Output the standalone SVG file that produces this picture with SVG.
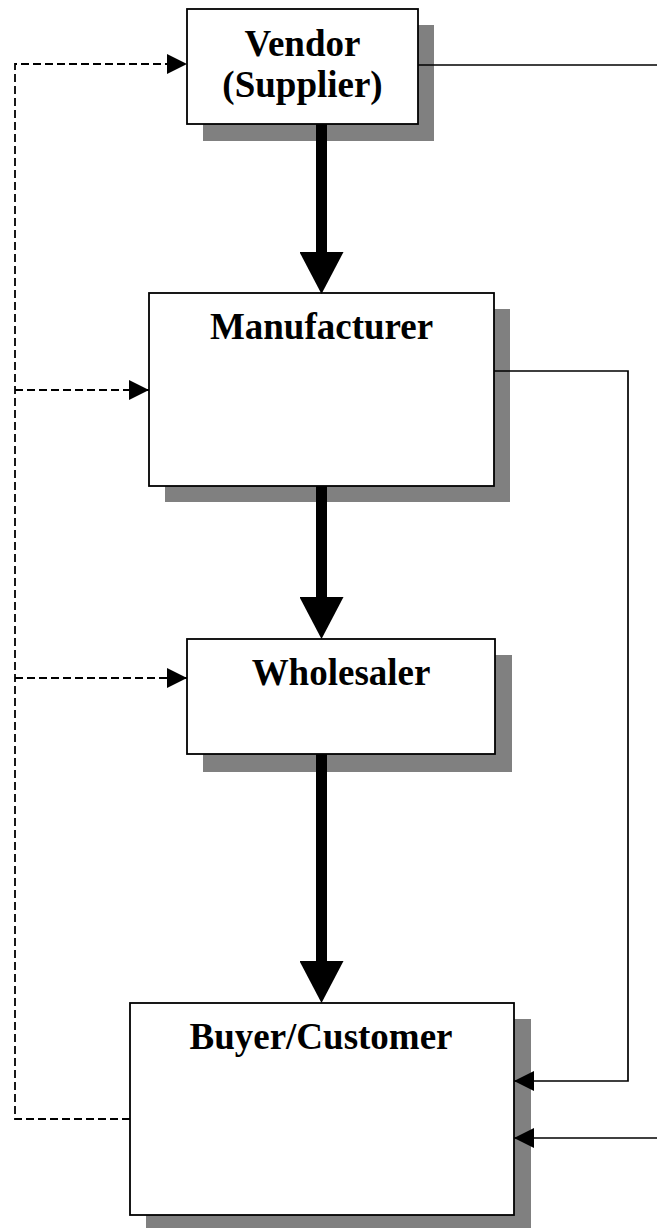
<svg xmlns="http://www.w3.org/2000/svg" width="657" height="1228" viewBox="0 0 657 1228">
<style>
.shadow{fill:#808080;stroke:none}
.box{fill:#fff;stroke:#000;stroke-width:1.8}
.lbl{font-family:"Liberation Serif","Times New Roman",serif;font-weight:bold;font-size:37px;fill:#000;text-anchor:middle}
.thin{fill:none;stroke:#000;stroke-width:1.7}
.dash{fill:none;stroke:#000;stroke-width:1.8;stroke-dasharray:8 4}
.thick{fill:none;stroke:#000;stroke-width:11}
</style>
<defs>
<marker id="ah" markerUnits="userSpaceOnUse" markerWidth="20" markerHeight="20" refX="20" refY="10" orient="auto" viewBox="0 0 20 20">
<path d="M0,0 L20,10 L0,20 Z" fill="#000"/>
</marker>
<marker id="big" markerUnits="userSpaceOnUse" markerWidth="42" markerHeight="44" refX="0" refY="22" orient="auto" viewBox="0 0 42 44">
<path d="M0,0 L42,22 L0,44 Z" fill="#000"/>
</marker>
</defs>
<g id="vendor">
<rect class="shadow" x="203" y="25" width="231" height="116"/>
<rect class="box" x="187" y="9" width="231" height="115"/>
<text class="lbl" transform="translate(302.5,55.5) scale(1,1.05)">Vendor</text>
<text class="lbl" transform="translate(302.5,96.5) scale(1,1.05)">(Supplier)</text>
</g>
<g id="manufacturer">
<rect class="shadow" x="165" y="309" width="345" height="193"/>
<rect class="box" x="149" y="293" width="345" height="193"/>
<text class="lbl" transform="translate(321.5,339) scale(1,1.05)">Manufacturer</text>
</g>
<g id="wholesaler">
<rect class="shadow" x="203" y="655" width="309" height="117"/>
<rect class="box" x="187" y="639" width="308" height="115"/>
<text class="lbl" transform="translate(341,685) scale(1,1.05)">Wholesaler</text>
</g>
<g id="buyer">
<rect class="shadow" x="146" y="1019" width="385" height="212"/>
<rect class="box" x="130" y="1003" width="384" height="212"/>
<text class="lbl" transform="translate(321,1049) scale(1,1.05)">Buyer/Customer</text>
</g>
<g id="connectors">
<path class="thick" d="M321.5,124 V252" marker-end="url(#big)"/>
<path class="thick" d="M321.5,486 V597" marker-end="url(#big)"/>
<path class="thick" d="M321.5,754 V961" marker-end="url(#big)"/>
<path class="dash" d="M130,1119 H15 V64 H187" marker-end="url(#ah)"/>
<path class="dash" d="M15,390 H149" marker-end="url(#ah)"/>
<path class="dash" d="M15,678 H187" marker-end="url(#ah)"/>
<path class="thin" d="M418,65 H657"/>
<path class="thin" d="M494,371 H628 V1081 H514" marker-end="url(#ah)"/>
<path class="thin" d="M657,1138 H514" marker-end="url(#ah)"/>
</g>
</svg>
